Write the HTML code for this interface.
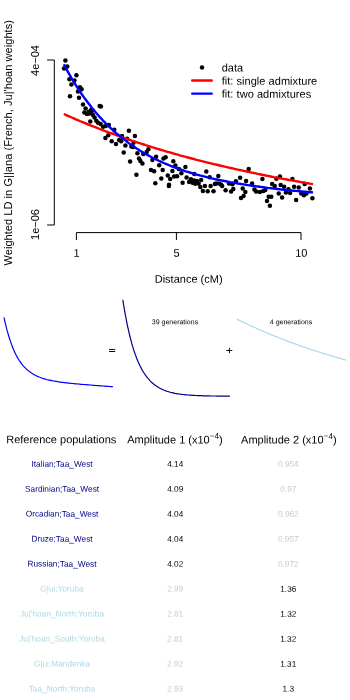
<!DOCTYPE html>
<html><head><meta charset="utf-8"><title>ALDER fit</title>
<style>
html,body{margin:0;padding:0;background:#fff;}
svg{display:block;will-change:transform;font-family:"Liberation Sans",sans-serif;}
text{font-family:"Liberation Sans",sans-serif;}
</style></head>
<body>
<svg width="350" height="700" viewBox="0 0 350 700">
<rect width="350" height="700" fill="#fff"/>
<!-- axes -->
<g stroke="#000" stroke-width="1" fill="none" stroke-linecap="round" stroke-linejoin="round">
<path d="M47.5,60 H54.3 V225 H47.5"/>
<path d="M76.4,239.6 V232.6 H301 V239.6 M176.4,232.6 V239.6"/>
</g>
<g font-size="11" fill="#000" text-anchor="middle" transform="rotate(0.03 175 350)">
<text x="76.4" y="256.7">1</text>
<text x="176.4" y="256.7">5</text>
<text x="301.3" y="256.7">10</text>
<text x="188.6" y="282.8">Distance (cM)</text>
</g>
<g font-size="11" fill="#000" text-anchor="middle">
<text transform="translate(39,60.5) rotate(-90)">4e&#8722;04</text>
<text transform="translate(39,224.5) rotate(-90)">1e&#8722;06</text>
<text transform="translate(12.4,142.8) rotate(-90)" textLength="245.4" lengthAdjust="spacing">Weighted LD in G||ana (French, Ju|'hoan weights)</text>
</g>
<!-- data -->
<g fill="#000"><circle cx="65.4" cy="60.6" r="2.25"/><circle cx="64.0" cy="68.6" r="2.25"/><circle cx="67.2" cy="66.6" r="2.25"/><circle cx="76.4" cy="75.2" r="2.25"/><circle cx="69.4" cy="79.2" r="2.25"/><circle cx="74.4" cy="80.4" r="2.25"/><circle cx="71.4" cy="84.4" r="2.25"/><circle cx="80.0" cy="87.2" r="2.25"/><circle cx="81.6" cy="89.2" r="2.25"/><circle cx="78.0" cy="91.6" r="2.25"/><circle cx="70.0" cy="96.2" r="2.25"/><circle cx="79.0" cy="97.8" r="2.25"/><circle cx="83.0" cy="104.6" r="2.25"/><circle cx="99.6" cy="106.0" r="2.25"/><circle cx="85.6" cy="108.6" r="2.25"/><circle cx="84.4" cy="112.4" r="2.25"/><circle cx="87.0" cy="114.0" r="2.25"/><circle cx="89.2" cy="113.6" r="2.25"/><circle cx="91.0" cy="110.0" r="2.25"/><circle cx="93.0" cy="115.0" r="2.25"/><circle cx="88.6" cy="112.1" r="2.25"/><circle cx="91.7" cy="111.3" r="2.25"/><circle cx="94.6" cy="117.6" r="2.25"/><circle cx="90.3" cy="121.6" r="2.25"/><circle cx="96.3" cy="120.7" r="2.25"/><circle cx="98.0" cy="122.8" r="2.25"/><circle cx="100.6" cy="124.1" r="2.25"/><circle cx="103.1" cy="126.7" r="2.25"/><circle cx="105.7" cy="125.9" r="2.25"/><circle cx="108.8" cy="125.0" r="2.25"/><circle cx="114.3" cy="129.8" r="2.25"/><circle cx="128.9" cy="130.7" r="2.25"/><circle cx="134.9" cy="136.1" r="2.25"/><circle cx="108.3" cy="135.3" r="2.25"/><circle cx="105.4" cy="137.9" r="2.25"/><circle cx="111.7" cy="141.3" r="2.25"/><circle cx="116.0" cy="143.9" r="2.25"/><circle cx="119.1" cy="139.9" r="2.25"/><circle cx="122.0" cy="136.1" r="2.25"/><circle cx="127.1" cy="138.7" r="2.25"/><circle cx="121.1" cy="141.3" r="2.25"/><circle cx="125.4" cy="145.6" r="2.25"/><circle cx="123.7" cy="152.4" r="2.25"/><circle cx="131.4" cy="146.4" r="2.25"/><circle cx="137.4" cy="153.3" r="2.25"/><circle cx="133.5" cy="142.7" r="2.25"/><circle cx="133.0" cy="146.9" r="2.25"/><circle cx="148.4" cy="149.3" r="2.25"/><circle cx="146.7" cy="152.1" r="2.25"/><circle cx="143.3" cy="154.1" r="2.25"/><circle cx="156.1" cy="156.7" r="2.25"/><circle cx="165.6" cy="157.2" r="2.25"/><circle cx="163.5" cy="158.4" r="2.25"/><circle cx="173.3" cy="161.3" r="2.25"/><circle cx="139.0" cy="158.4" r="2.25"/><circle cx="140.4" cy="161.0" r="2.25"/><circle cx="142.4" cy="163.6" r="2.25"/><circle cx="130.1" cy="161.5" r="2.25"/><circle cx="152.4" cy="160.1" r="2.25"/><circle cx="159.2" cy="165.3" r="2.25"/><circle cx="151.0" cy="169.9" r="2.25"/><circle cx="154.1" cy="171.3" r="2.25"/><circle cx="162.7" cy="169.9" r="2.25"/><circle cx="136.4" cy="174.7" r="2.25"/><circle cx="161.3" cy="178.5" r="2.25"/><circle cx="167.8" cy="175.6" r="2.25"/><circle cx="170.2" cy="179.0" r="2.25"/><circle cx="172.4" cy="170.9" r="2.25"/><circle cx="174.1" cy="176.4" r="2.25"/><circle cx="155.3" cy="183.3" r="2.25"/><circle cx="169.0" cy="184.7" r="2.25"/><circle cx="175.4" cy="165.6" r="2.25"/><circle cx="185.4" cy="166.9" r="2.25"/><circle cx="178.9" cy="169.0" r="2.25"/><circle cx="181.4" cy="173.3" r="2.25"/><circle cx="177.1" cy="176.2" r="2.25"/><circle cx="186.6" cy="177.6" r="2.25"/><circle cx="168.9" cy="186.1" r="2.25"/><circle cx="182.6" cy="182.7" r="2.25"/><circle cx="206.3" cy="171.6" r="2.25"/><circle cx="194.3" cy="174.1" r="2.25"/><circle cx="218.3" cy="175.9" r="2.25"/><circle cx="209.7" cy="177.2" r="2.25"/><circle cx="190.9" cy="179.3" r="2.25"/><circle cx="189.1" cy="181.9" r="2.25"/><circle cx="192.6" cy="182.7" r="2.25"/><circle cx="196.9" cy="181.0" r="2.25"/><circle cx="201.1" cy="180.1" r="2.25"/><circle cx="198.6" cy="183.6" r="2.25"/><circle cx="200.3" cy="187.0" r="2.25"/><circle cx="204.9" cy="186.1" r="2.25"/><circle cx="210.6" cy="186.1" r="2.25"/><circle cx="214.9" cy="184.1" r="2.25"/><circle cx="219.1" cy="183.6" r="2.25"/><circle cx="202.9" cy="190.9" r="2.25"/><circle cx="207.7" cy="191.3" r="2.25"/><circle cx="213.5" cy="191.3" r="2.25"/><circle cx="248.7" cy="168.9" r="2.25"/><circle cx="240.1" cy="177.8" r="2.25"/><circle cx="246.1" cy="180.9" r="2.25"/><circle cx="262.4" cy="179.1" r="2.25"/><circle cx="235.9" cy="181.2" r="2.25"/><circle cx="252.1" cy="183.4" r="2.25"/><circle cx="216.1" cy="183.4" r="2.25"/><circle cx="222.1" cy="186.0" r="2.25"/><circle cx="229.0" cy="183.4" r="2.25"/><circle cx="232.4" cy="184.3" r="2.25"/><circle cx="225.6" cy="190.3" r="2.25"/><circle cx="233.3" cy="189.1" r="2.25"/><circle cx="231.1" cy="191.5" r="2.25"/><circle cx="242.7" cy="188.6" r="2.25"/><circle cx="245.3" cy="192.0" r="2.25"/><circle cx="243.6" cy="195.9" r="2.25"/><circle cx="241.0" cy="198.0" r="2.25"/><circle cx="254.4" cy="189.4" r="2.25"/><circle cx="256.1" cy="191.5" r="2.25"/><circle cx="259.9" cy="192.0" r="2.25"/><circle cx="263.3" cy="191.1" r="2.25"/><circle cx="194.0" cy="180.5" r="2.25"/><circle cx="195.2" cy="183.8" r="2.25"/><circle cx="221.0" cy="184.6" r="2.25"/><circle cx="100.9" cy="106.6" r="2.25"/><circle cx="279.9" cy="176.4" r="2.25"/><circle cx="276.4" cy="178.7" r="2.25"/><circle cx="292.4" cy="179.0" r="2.25"/><circle cx="272.1" cy="184.1" r="2.25"/><circle cx="274.7" cy="185.9" r="2.25"/><circle cx="280.7" cy="185.0" r="2.25"/><circle cx="284.1" cy="186.7" r="2.25"/><circle cx="304.7" cy="184.1" r="2.25"/><circle cx="294.1" cy="186.7" r="2.25"/><circle cx="298.7" cy="187.6" r="2.25"/><circle cx="309.9" cy="188.4" r="2.25"/><circle cx="288.4" cy="189.3" r="2.25"/><circle cx="265.3" cy="190.1" r="2.25"/><circle cx="278.7" cy="193.6" r="2.25"/><circle cx="285.9" cy="192.4" r="2.25"/><circle cx="290.1" cy="193.1" r="2.25"/><circle cx="301.3" cy="193.6" r="2.25"/><circle cx="303.9" cy="195.3" r="2.25"/><circle cx="306.4" cy="193.6" r="2.25"/><circle cx="268.7" cy="196.7" r="2.25"/><circle cx="271.3" cy="196.7" r="2.25"/><circle cx="282.1" cy="197.5" r="2.25"/><circle cx="312.4" cy="198.2" r="2.25"/><circle cx="296.1" cy="199.9" r="2.25"/><circle cx="267.0" cy="200.9" r="2.25"/><circle cx="269.9" cy="205.7" r="2.25"/></g>
<path d="M63.8,114.0 L65.8,114.9 L67.8,115.8 L69.8,116.7 L71.8,117.5 L73.8,118.4 L75.8,119.3 L77.8,120.1 L79.8,121.0 L81.8,121.8 L83.8,122.6 L85.8,123.4 L87.8,124.3 L89.8,125.1 L91.8,125.9 L93.8,126.7 L95.8,127.4 L97.8,128.2 L99.8,129.0 L101.8,129.8 L103.8,130.5 L105.8,131.3 L107.8,132.0 L109.8,132.8 L111.8,133.5 L113.8,134.2 L115.8,135.0 L117.8,135.7 L119.8,136.4 L121.8,137.1 L123.8,137.8 L125.8,138.5 L127.8,139.2 L129.8,139.9 L131.8,140.6 L133.8,141.2 L135.8,141.9 L137.8,142.6 L139.8,143.2 L141.8,143.9 L143.8,144.5 L145.8,145.2 L147.8,145.8 L149.8,146.4 L151.8,147.1 L153.8,147.7 L155.8,148.3 L157.8,148.9 L159.8,149.5 L161.8,150.1 L163.8,150.7 L165.8,151.3 L167.8,151.9 L169.8,152.4 L171.8,153.0 L173.8,153.6 L175.8,154.2 L177.8,154.7 L179.8,155.3 L181.8,155.8 L183.8,156.4 L185.8,156.9 L187.8,157.5 L189.8,158.0 L191.8,158.5 L193.8,159.0 L195.8,159.6 L197.8,160.1 L199.8,160.6 L201.8,161.1 L203.8,161.6 L205.8,162.1 L207.8,162.6 L209.8,163.1 L211.8,163.6 L213.8,164.1 L215.8,164.5 L217.8,165.0 L219.8,165.5 L221.8,166.0 L223.8,166.4 L225.8,166.9 L227.8,167.3 L229.8,167.8 L231.8,168.2 L233.8,168.7 L235.8,169.1 L237.8,169.6 L239.8,170.0 L241.8,170.4 L243.8,170.9 L245.8,171.3 L247.8,171.7 L249.8,172.2 L251.8,172.6 L253.8,173.0 L255.8,173.4 L257.8,173.9 L259.8,174.3 L261.8,174.7 L263.8,175.1 L265.8,175.5 L267.8,175.9 L269.8,176.3 L271.8,176.7 L273.8,177.1 L275.8,177.4 L277.8,177.8 L279.8,178.2 L281.8,178.6 L283.8,179.0 L285.8,179.3 L287.8,179.7 L289.8,180.1 L291.8,180.4 L293.8,180.8 L295.8,181.1 L297.8,181.5 L299.8,181.9 L301.8,182.2 L303.8,182.5 L305.8,182.9 L307.8,183.2 L309.8,183.6 L311.8,183.9 L313.0,184.1" stroke="#ff0000" stroke-width="2.4" fill="none" stroke-linecap="butt" stroke-linejoin="round"/>
<path d="M63.8,64.2 L65.8,68.0 L67.8,71.6 L69.8,75.1 L71.8,78.6 L73.8,81.9 L75.8,85.1 L77.8,88.2 L79.8,91.3 L81.8,94.2 L83.8,97.1 L85.8,99.8 L87.8,102.5 L89.8,105.1 L91.8,107.7 L93.8,110.1 L95.8,112.5 L97.8,114.8 L99.8,117.1 L101.8,119.2 L103.8,121.4 L105.8,123.4 L107.8,125.4 L109.8,127.3 L111.8,129.2 L113.8,131.0 L115.8,132.8 L117.8,134.5 L119.8,136.2 L121.8,137.8 L123.8,139.4 L125.8,140.9 L127.8,142.4 L129.8,143.9 L131.8,145.3 L133.8,146.6 L135.8,147.9 L137.8,149.2 L139.8,150.5 L141.8,151.7 L143.8,152.9 L145.8,154.0 L147.8,155.1 L149.8,156.2 L151.8,157.3 L153.8,158.3 L155.8,159.3 L157.8,160.2 L159.8,161.2 L161.8,162.1 L163.8,163.0 L165.8,163.8 L167.8,164.7 L169.8,165.5 L171.8,166.3 L173.8,167.1 L175.8,167.8 L177.8,168.5 L179.8,169.2 L181.8,169.9 L183.8,170.6 L185.8,171.3 L187.8,171.9 L189.8,172.5 L191.8,173.1 L193.8,173.7 L195.8,174.3 L197.8,174.8 L199.8,175.4 L201.8,175.9 L203.8,176.4 L205.8,176.9 L207.8,177.4 L209.8,177.9 L211.8,178.4 L213.8,178.8 L215.8,179.3 L217.8,179.7 L219.8,180.1 L221.8,180.5 L223.8,180.9 L225.8,181.3 L227.8,181.7 L229.8,182.1 L231.8,182.4 L233.8,182.8 L235.8,183.1 L237.8,183.5 L239.8,183.8 L241.8,184.1 L243.8,184.4 L245.8,184.8 L247.8,185.1 L249.8,185.4 L251.8,185.7 L253.8,186.0 L255.8,186.3 L257.8,186.5 L259.8,186.8 L261.8,187.1 L263.8,187.3 L265.8,187.6 L267.8,187.9 L269.8,188.1 L271.8,188.3 L273.8,188.6 L275.8,188.8 L277.8,189.0 L279.8,189.3 L281.8,189.5 L283.8,189.7 L285.8,189.9 L287.8,190.1 L289.8,190.3 L291.8,190.5 L293.8,190.7 L295.8,190.9 L297.8,191.1 L299.8,191.3 L301.8,191.5 L303.8,191.7 L305.8,191.8 L307.8,192.0 L309.8,192.2 L311.8,192.3 L313.0,192.4" stroke="#0000ff" stroke-width="2.4" fill="none" stroke-linecap="butt" stroke-linejoin="round"/>
<!-- legend -->
<circle cx="202" cy="67.4" r="2.25" fill="#000"/>
<path d="M192.2,80.5 H211.7" stroke="#ff0000" stroke-width="2.4" stroke-linecap="round"/>
<path d="M192.2,93.6 H211.7" stroke="#0000ff" stroke-width="2.4" stroke-linecap="round"/>
<g font-size="11" fill="#000" transform="rotate(0.03 175 350)">
<text x="221.5" y="71.5">data</text>
<text x="221.5" y="84.6" textLength="95.6">fit: single admixture</text>
<text x="221.5" y="97.6" textLength="89.6">fit: two admixtures</text>
</g>
<!-- decomposition -->
<path d="M4.1,317.8 L5.5,323.9 L6.8,329.4 L8.2,334.3 L9.6,338.8 L11.0,342.9 L12.3,346.6 L13.7,349.9 L15.1,352.9 L16.4,355.6 L17.8,358.1 L19.2,360.3 L20.6,362.3 L21.9,364.2 L23.3,365.8 L24.7,367.3 L26.0,368.7 L27.4,370.0 L28.8,371.1 L30.1,372.1 L31.5,373.1 L32.9,373.9 L34.3,374.7 L35.6,375.5 L37.0,376.1 L38.4,376.7 L39.7,377.3 L41.1,377.8 L42.5,378.3 L43.9,378.7 L45.2,379.1 L46.6,379.5 L48.0,379.8 L49.3,380.1 L50.7,380.4 L52.1,380.7 L53.5,381.0 L54.8,381.2 L56.2,381.4 L57.6,381.7 L58.9,381.9 L60.3,382.1 L61.7,382.3 L63.0,382.4 L64.4,382.6 L65.8,382.8 L67.2,382.9 L68.5,383.1 L69.9,383.2 L71.3,383.4 L72.6,383.5 L74.0,383.6 L75.4,383.8 L76.8,383.9 L78.1,384.0 L79.5,384.1 L80.9,384.3 L82.2,384.4 L83.6,384.5 L85.0,384.6 L86.4,384.7 L87.7,384.8 L89.1,384.9 L90.5,385.0 L91.8,385.2 L93.2,385.3 L94.6,385.4 L95.9,385.5 L97.3,385.6 L98.7,385.7 L100.1,385.8 L101.4,385.9 L102.8,386.0 L104.2,386.1 L105.5,386.2 L106.9,386.3 L108.3,386.4 L109.7,386.5 L111.0,386.6 L112.4,386.7" stroke="#0000ff" stroke-width="1.2" fill="none" stroke-linecap="round" stroke-linejoin="round"/>
<path d="M122.9,300.4 L123.8,306.0 L124.7,311.3 L125.6,316.2 L126.5,320.9 L127.4,325.3 L128.3,329.4 L129.2,333.3 L130.1,337.0 L131.0,340.4 L131.8,343.7 L132.7,346.7 L133.6,349.6 L134.5,352.3 L135.4,354.9 L136.3,357.3 L137.2,359.6 L138.1,361.7 L139.0,363.7 L139.9,365.6 L140.8,367.4 L141.7,369.1 L142.6,370.7 L143.5,372.2 L144.4,373.6 L145.3,374.9 L146.2,376.1 L147.1,377.3 L148.0,378.4 L148.9,379.4 L149.7,380.4 L150.6,381.3 L151.5,382.2 L152.4,383.0 L153.3,383.8 L154.2,384.5 L155.1,385.2 L156.0,385.8 L156.9,386.4 L157.8,387.0 L158.7,387.6 L159.6,388.1 L160.5,388.5 L161.4,389.0 L162.3,389.4 L163.2,389.8 L164.1,390.2 L165.0,390.5 L165.9,390.9 L166.8,391.2 L167.6,391.5 L168.5,391.7 L169.4,392.0 L170.3,392.3 L171.2,392.5 L172.1,392.7 L173.0,392.9 L173.9,393.1 L174.8,393.3 L175.7,393.5 L176.6,393.6 L177.5,393.8 L178.4,393.9 L179.3,394.0 L180.2,394.2 L181.1,394.3 L182.0,394.4 L182.9,394.5 L183.8,394.6 L184.7,394.7 L185.5,394.8 L186.4,394.9 L187.3,395.0 L188.2,395.0 L189.1,395.1 L190.0,395.2 L190.9,395.2 L191.8,395.3 L192.7,395.3 L193.6,395.4 L194.5,395.4 L195.4,395.5 L196.3,395.5 L197.2,395.6 L198.1,395.6 L199.0,395.6 L199.9,395.7 L200.8,395.7 L201.7,395.7 L202.6,395.8 L203.4,395.8 L204.3,395.8 L205.2,395.8 L206.1,395.9 L207.0,395.9 L207.9,395.9 L208.8,395.9 L209.7,395.9 L210.6,396.0 L211.5,396.0 L212.4,396.0 L213.3,396.0 L214.2,396.0 L215.1,396.0 L216.0,396.0 L216.9,396.1 L217.8,396.1 L218.7,396.1 L219.6,396.1 L220.5,396.1 L221.3,396.1 L222.2,396.1 L223.1,396.1 L224.0,396.1 L224.9,396.1 L225.8,396.1 L226.7,396.1 L227.6,396.1 L228.5,396.1 L229.4,396.2" stroke="#00008b" stroke-width="1.2" fill="none" stroke-linecap="round" stroke-linejoin="round"/>
<path d="M237.5,319.4 L238.9,320.1 L240.2,320.8 L241.6,321.4 L243.0,322.1 L244.4,322.7 L245.7,323.4 L247.1,324.0 L248.5,324.7 L249.8,325.3 L251.2,326.0 L252.6,326.6 L254.0,327.2 L255.3,327.8 L256.7,328.4 L258.1,329.1 L259.5,329.7 L260.8,330.3 L262.2,330.9 L263.6,331.5 L264.9,332.0 L266.3,332.6 L267.7,333.2 L269.1,333.8 L270.4,334.4 L271.8,334.9 L273.2,335.5 L274.5,336.0 L275.9,336.6 L277.3,337.1 L278.7,337.7 L280.0,338.2 L281.4,338.8 L282.8,339.3 L284.2,339.8 L285.5,340.4 L286.9,340.9 L288.3,341.4 L289.6,341.9 L291.0,342.4 L292.4,342.9 L293.8,343.4 L295.1,343.9 L296.5,344.4 L297.9,344.9 L299.2,345.4 L300.6,345.9 L302.0,346.4 L303.4,346.9 L304.7,347.3 L306.1,347.8 L307.5,348.3 L308.9,348.7 L310.2,349.2 L311.6,349.7 L313.0,350.1 L314.3,350.6 L315.7,351.0 L317.1,351.4 L318.5,351.9 L319.8,352.3 L321.2,352.8 L322.6,353.2 L323.9,353.6 L325.3,354.0 L326.7,354.5 L328.1,354.9 L329.4,355.3 L330.8,355.7 L332.2,356.1 L333.6,356.5 L334.9,356.9 L336.3,357.3 L337.7,357.7 L339.0,358.1 L340.4,358.5 L341.8,358.9 L343.2,359.3 L344.5,359.7 L345.9,360.0" stroke="#add8e6" stroke-width="1.2" fill="none" stroke-linecap="round" stroke-linejoin="round"/>
<path d="M109.1,349.45 H115.2 M109.1,351.5 H115.2 M226.3,350.5 H232.3 M229.4,347.8 V353.1" stroke="#000" stroke-width="0.95" fill="none"/>
<g font-size="7" fill="#000" text-anchor="middle" transform="rotate(0.03 175 350)">
<text x="175" y="324.2">39 generations</text>
<text x="291" y="324.2">4 generations</text>
</g>
<!-- table -->
<g font-size="11" fill="#000" text-anchor="middle" transform="rotate(0.03 175 350)">
<text x="61.3" y="443.4">Reference populations</text>
<text x="175.0" y="443.4">Amplitude 1 (x10<tspan font-size="8.2" dy="-4.6">&#8722;4</tspan><tspan dy="4.6">)</tspan></text>
<text x="288.9" y="443.4">Amplitude 2 (x10<tspan font-size="8.2" dy="-4.6">&#8722;4</tspan><tspan dy="4.6">)</tspan></text>
</g>
<g font-size="8.25" text-anchor="middle" transform="rotate(0.03 175 580)">
<text x="62" y="466.8" fill="#00008b" font-size="8.3">Italian;Taa_West</text><text x="175.2" y="466.8" fill="#000">4.14</text><text x="288.3" y="466.8" fill="#c8c8c8">0.954</text>
<text x="62" y="491.8" fill="#00008b" font-size="8.3">Sardinian;Taa_West</text><text x="175.2" y="491.8" fill="#000">4.09</text><text x="288.3" y="491.8" fill="#c8c8c8">0.97</text>
<text x="62" y="516.7" fill="#00008b" font-size="8.3">Orcadian;Taa_West</text><text x="175.2" y="516.7" fill="#000">4.04</text><text x="288.3" y="516.7" fill="#c8c8c8">0.962</text>
<text x="62" y="541.7" fill="#00008b" font-size="8.3">Druze;Taa_West</text><text x="175.2" y="541.7" fill="#000">4.04</text><text x="288.3" y="541.7" fill="#c8c8c8">0.957</text>
<text x="62" y="566.7" fill="#00008b" font-size="8.3">Russian;Taa_West</text><text x="175.2" y="566.7" fill="#000">4.02</text><text x="288.3" y="566.7" fill="#c8c8c8">0.972</text>
<text x="62" y="591.6" fill="#add8e6" font-size="8.3">G|ui;Yoruba</text><text x="175.2" y="591.6" fill="#c8c8c8">2.99</text><text x="288.3" y="591.6" fill="#000">1.36</text>
<text x="62" y="616.6" fill="#add8e6" font-size="8.3">Ju|'hoan_North;Yoruba</text><text x="175.2" y="616.6" fill="#c8c8c8">2.81</text><text x="288.3" y="616.6" fill="#000">1.32</text>
<text x="62" y="641.6" fill="#add8e6" font-size="8.3">Ju|'hoan_South;Yoruba</text><text x="175.2" y="641.6" fill="#c8c8c8">2.81</text><text x="288.3" y="641.6" fill="#000">1.32</text>
<text x="62" y="666.6" fill="#add8e6" font-size="8.3">G|ui;Mandenka</text><text x="175.2" y="666.6" fill="#c8c8c8">2.92</text><text x="288.3" y="666.6" fill="#000">1.31</text>
<text x="62" y="691.5" fill="#add8e6" font-size="8.3">Taa_North;Yoruba</text><text x="175.2" y="691.5" fill="#c8c8c8">2.93</text><text x="288.3" y="691.5" fill="#000">1.3</text>
</g>
</svg>
</body></html>
